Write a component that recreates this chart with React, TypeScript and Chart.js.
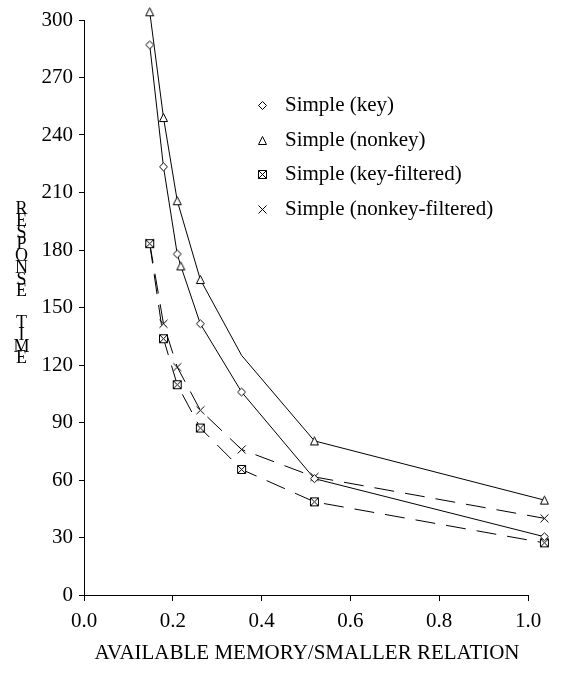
import React, { useEffect, useRef } from 'react';
import { Chart, registerables } from 'chart.js';

Chart.register(...registerables);

// ---- data ----
const memoryRatio = [0.148, 0.179, 0.21, 0.262, 0.355, 0.519, 1.037];
const simpleKey = [287, 223.4, 177.9, 141.5, 105.9, 60.7, 30.4];
const simpleNonkey = [304.3, 249.1, 205.7, 164.6, 125, 80.4, 49.5];
const nonkeyMarked = [true, true, true, true, false, true, true];
const simpleKeyFiltered = [183.3, 133.7, 109.7, 87.1, 65.5, 48.6, 27.2];
const simpleNonkeyFiltered = [183.6, 141.5, 118.9, 96.4, 75.9, 61.6, 40];
// a lone triangle marker sitting on the "Simple (key)" curve in the original
const strayTriangle = { x: 0.218, y: 171.7 };

const seriesLabels = [
  'Simple (key)',
  'Simple (nonkey)',
  'Simple (key-filtered)',
  'Simple (nonkey-filtered)',
];
const xAxisTitle = 'AVAILABLE MEMORY/SMALLER RELATION';
const yAxisTitleWords = ['RESPONSE', 'TIME'];

const FONT = '"Liberation Serif", "Times New Roman", serif';

type MarkerKind = 'diamond' | 'triangle' | 'boxX' | 'cross';

function makeMarker(kind: MarkerKind): HTMLCanvasElement {
  const c = document.createElement('canvas');
  c.width = 11;
  c.height = 11;
  const g = c.getContext('2d')!;
  g.strokeStyle = '#000';
  g.fillStyle = '#fff';
  g.lineWidth = 1;
  g.beginPath();
  if (kind === 'diamond') {
    g.moveTo(1.5, 5.5);
    g.lineTo(5.5, 1.5);
    g.lineTo(9.5, 5.5);
    g.lineTo(5.5, 9.5);
    g.closePath();
    g.fill();
    g.stroke();
  } else if (kind === 'triangle') {
    g.moveTo(5.5, 1.5);
    g.lineTo(9.5, 9.5);
    g.lineTo(1.5, 9.5);
    g.closePath();
    g.fill();
    g.stroke();
  } else if (kind === 'boxX') {
    g.rect(1.5, 1.5, 8, 8);
    g.fill();
    g.stroke();
    g.beginPath();
    g.moveTo(1.5, 1.5);
    g.lineTo(9.5, 9.5);
    g.moveTo(9.5, 1.5);
    g.lineTo(1.5, 9.5);
    g.stroke();
  } else {
    g.moveTo(1.5, 1.5);
    g.lineTo(9.5, 9.5);
    g.moveTo(9.5, 1.5);
    g.lineTo(1.5, 9.5);
    g.stroke();
  }
  return c;
}

export default function App() {
  const ref = useRef<HTMLCanvasElement>(null);

  useEffect(() => {
    if (!ref.current) return;
    const markers = {
      diamond: makeMarker('diamond'),
      triangle: makeMarker('triangle'),
      boxX: makeMarker('boxX'),
      cross: makeMarker('cross'),
    };
    const legendMarkers = [markers.diamond, markers.triangle, markers.boxX, markers.cross];

    const keyPoints: any[] = memoryRatio.map((x, i) => ({ x, y: simpleKey[i], stray: false }));
    keyPoints.push({ x: strayTriangle.x, y: strayTriangle.y, stray: true });
    keyPoints.sort((a, b) => a.x - b.x);

    const common = {
      showLine: true,
      borderColor: '#000',
      borderWidth: 1,
      tension: 0,
      clip: false as const,
      pointBorderWidth: 0,
      pointRadius: 20,
      fill: false,
    };

    const chart = new Chart(ref.current, {
      type: 'scatter',
      data: {
        datasets: [
          {
            ...common,
            label: seriesLabels[0],
            data: keyPoints,
            pointStyle: (c: any) => (c.raw && c.raw.stray ? markers.triangle : markers.diamond),
          },
          {
            ...common,
            label: seriesLabels[1],
            data: memoryRatio.map((x, i) => ({ x, y: simpleNonkey[i] })),
            pointStyle: markers.triangle,
            pointRadius: (c: any) => (nonkeyMarked[c.dataIndex] ? 20 : 0),
          },
          {
            ...common,
            label: seriesLabels[2],
            data: memoryRatio.map((x, i) => ({ x, y: simpleKeyFiltered[i] })),
            pointStyle: markers.boxX,
            borderDash: [20, 11],
          },
          {
            ...common,
            label: seriesLabels[3],
            data: memoryRatio.map((x, i) => ({ x, y: simpleNonkeyFiltered[i] })),
            pointStyle: markers.cross,
            borderDash: [20, 11],
          },
        ],
      },
      options: {
        responsive: false,
        devicePixelRatio: 1,
        animation: false,
        events: [],
        layout: { padding: { left: 0, right: 53, top: 19, bottom: 0 } },
        plugins: {
          legend: { display: false },
          tooltip: { enabled: false },
          title: { display: false },
        },
        scales: {
          x: {
            type: 'linear',
            min: 0,
            max: 1,
            ticks: {
              stepSize: 0.2,
              color: '#000',
              font: { family: FONT, size: 21 },
              padding: 8,
              maxRotation: 0,
              callback: (v: any) => Number(v).toFixed(1),
            },
            grid: {
              display: true,
              drawOnChartArea: false,
              drawTicks: true,
              tickLength: 6,
              color: '#000',
              lineWidth: 1,
            },
            border: { display: true, color: '#000', width: 1 },
            afterFit: (s: any) => {
              s.height = 78;
            },
          },
          y: {
            type: 'linear',
            min: 0,
            max: 300,
            ticks: {
              stepSize: 30,
              color: '#000',
              font: { family: FONT, size: 21 },
              padding: 6,
            },
            grid: {
              display: true,
              drawOnChartArea: false,
              drawTicks: true,
              tickLength: 5,
              color: '#000',
              lineWidth: 1,
            },
            border: { display: true, color: '#000', width: 1 },
            afterFit: (s: any) => {
              s.width = 84;
            },
          },
        },
      },
      plugins: [
        {
          id: 'decor',
          afterDraw(ch: any) {
            const ctx = ch.ctx as CanvasRenderingContext2D;
            ctx.save();
            ctx.fillStyle = '#000';
            // legend
            ctx.font = `21px ${FONT}`;
            ctx.textBaseline = 'middle';
            ctx.textAlign = 'left';
            ch.data.datasets.forEach((ds: any, i: number) => {
              const y = 105.2 + i * 34.8;
              const m = legendMarkers[i];
              ctx.drawImage(m, Math.round(262.3 - m.width / 2), Math.round(y - m.height / 2));
              ctx.fillText(ds.label, 285, y);
            });
            // x-axis title
            ctx.textAlign = 'center';
            ctx.fillText(xAxisTitle, 307, 653);
            // y-axis title, stacked letters
            ctx.font = `18px ${FONT}`;
            const starts = [209.5, 323.3];
            yAxisTitleWords.forEach((w, wi) => {
              for (let k = 0; k < w.length; k++) {
                ctx.fillText(w[k], 21.5, starts[wi] + k * 11.75);
              }
            });
            ctx.restore();
          },
        },
      ],
    } as any);

    return () => chart.destroy();
  }, []);

  return (
    <div
      style={{
        position: 'fixed',
        left: 0,
        top: 0,
        width: 581,
        height: 673,
        background: '#fff',
      }}
    >
      <canvas ref={ref} width={581} height={673} style={{ display: 'block' }} />
    </div>
  );
}
